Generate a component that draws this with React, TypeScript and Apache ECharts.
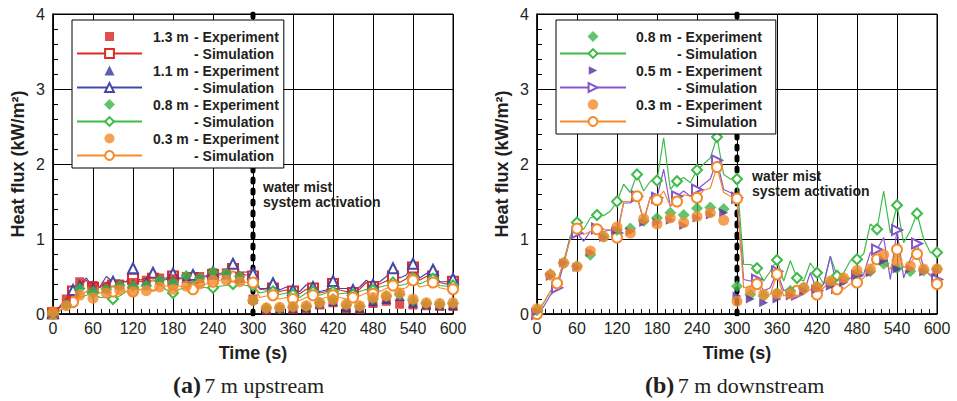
import React, { useEffect, useRef } from "react";
import * as echarts from "echarts";

// time stamps (s)
const SIM_T = [0,10,20,30,40,50,60,70,80,90,100,110,120,130,140,150,160,170,180,190,200,210,220,230,240,250,260,270,280,290,300,310,320,330,340,350,360,370,380,390,400,410,420,430,440,450,460,470,480,490,500,510,520,530,540,550,560,570,580,590,600];
const EXP_T = [0,20,40,60,80,100,120,140,160,180,200,220,240,260,280,300,320,340,360,380,400,420,440,460,480,500,520,540,560,580,600];
const ACTIVATION_T = 300;

// (a) 7 m upstream — simulations (kW/m²)
const A13_SIM = [0.01,0.1,0.2,0.3,0.38,0.45,0.35,0.35,0.42,0.38,0.42,0.43,0.47,0.43,0.45,0.47,0.47,0.46,0.5,0.47,0.47,0.48,0.49,0.5,0.52,0.52,0.54,0.6,0.54,0.52,0.5,0.33,0.32,0.34,0.3,0.32,0.3,0.27,0.33,0.34,0.28,0.3,0.4,0.32,0.3,0.28,0.33,0.42,0.36,0.4,0.44,0.5,0.42,0.47,0.62,0.45,0.5,0.5,0.42,0.4,0.43];
const A11_SIM = [0.01,0.08,0.2,0.32,0.39,0.48,0.36,0.36,0.5,0.43,0.45,0.43,0.61,0.45,0.48,0.55,0.48,0.48,0.54,0.48,0.48,0.52,0.5,0.51,0.56,0.54,0.56,0.67,0.56,0.56,0.54,0.34,0.34,0.41,0.32,0.36,0.32,0.3,0.39,0.36,0.3,0.32,0.44,0.34,0.34,0.32,0.36,0.45,0.39,0.43,0.5,0.61,0.48,0.52,0.67,0.48,0.54,0.59,0.43,0.43,0.47];
const A08_SIM = [0,0.04,0.1,0.16,0.22,0.25,0.28,0.22,0.22,0.2,0.24,0.3,0.35,0.33,0.32,0.38,0.4,0.32,0.28,0.33,0.35,0.37,0.36,0.35,0.35,0.37,0.38,0.4,0.4,0.38,0.38,0.28,0.3,0.3,0.26,0.28,0.26,0.22,0.28,0.3,0.25,0.28,0.3,0.27,0.28,0.26,0.3,0.33,0.32,0.36,0.38,0.42,0.38,0.4,0.48,0.4,0.44,0.47,0.38,0.37,0.38];
const A03_SIM = [0,0.05,0.1,0.16,0.25,0.3,0.32,0.28,0.3,0.3,0.33,0.3,0.3,0.32,0.35,0.38,0.38,0.37,0.4,0.37,0.36,0.33,0.37,0.4,0.43,0.45,0.47,0.5,0.45,0.42,0.42,0.22,0.24,0.25,0.2,0.22,0.2,0.18,0.22,0.25,0.2,0.22,0.25,0.22,0.2,0.22,0.24,0.28,0.27,0.3,0.34,0.38,0.33,0.35,0.45,0.36,0.38,0.42,0.35,0.33,0.33];
// (a) experiments
const A13_EXP = [0.03,0.2,0.43,0.38,0.37,0.4,0.42,0.45,0.48,0.47,0.5,0.5,0.55,0.55,0.5,0.2,0.05,0.06,0.06,0.07,0.12,0.15,0.07,0.06,0.14,0.17,0.13,0.12,0.11,0.1,0.1];
const A11_EXP = [0.02,0.15,0.4,0.35,0.35,0.4,0.4,0.43,0.46,0.45,0.48,0.48,0.52,0.53,0.48,0.2,0.07,0.07,0.08,0.09,0.14,0.17,0.09,0.08,0.17,0.2,0.24,0.15,0.13,0.12,0.12];
const A08_EXP = [0.01,0.12,0.34,0.3,0.33,0.38,0.37,0.38,0.45,0.42,0.51,0.48,0.56,0.54,0.5,0.18,0.08,0.08,0.09,0.1,0.15,0.2,0.12,0.1,0.2,0.24,0.26,0.18,0.14,0.13,0.14];
const A03_EXP = [0.03,0.11,0.25,0.21,0.28,0.32,0.3,0.31,0.36,0.33,0.37,0.4,0.45,0.45,0.43,0.18,0.08,0.09,0.1,0.11,0.15,0.19,0.13,0.11,0.22,0.24,0.28,0.2,0.15,0.14,0.15];

// (b) 7 m downstream — simulations
const B08_SIM = [0.04,0.15,0.3,0.4,0.7,1.04,1.22,1.13,1.28,1.32,1.31,1.37,1.5,1.73,1.62,1.86,1.64,1.77,1.78,2.35,1.66,1.77,1.82,1.75,1.92,2.0,2.08,2.36,1.86,1.8,1.8,0.66,0.66,0.61,0.44,0.57,0.72,0.44,0.71,0.48,0.44,0.68,0.55,0.4,0.77,0.51,0.55,0.71,0.73,0.8,1.2,1.13,1.64,1.08,1.45,0.95,1.11,1.34,1.0,0.82,0.82];
const B05_SIM = [0,0.1,0.25,0.35,0.66,1.02,1.08,0.97,1.1,1.14,1.1,1.12,1.08,1.48,1.48,1.57,1.24,1.56,1.55,1.93,1.43,1.57,1.64,1.57,1.66,1.73,1.8,2.05,1.66,1.62,1.55,0.46,0.44,0.46,0.31,0.35,0.57,0.31,0.35,0.26,0.28,0.55,0.31,0.4,0.77,0.35,0.44,0.48,0.51,0.53,0.82,0.86,1.02,0.46,1.12,0.48,0.73,0.94,0.62,0.51,0.46];
const B03_SIM = [0,0.15,0.3,0.41,0.7,1.0,1.14,1.06,1.1,1.13,1.13,1.12,1.02,1.5,1.5,1.57,1.26,1.55,1.52,1.64,1.44,1.5,1.59,1.57,1.55,1.65,1.68,1.96,1.62,1.57,1.54,0.35,0.37,0.4,0.24,0.26,0.53,0.24,0.28,0.31,0.26,0.33,0.26,0.35,0.44,0.33,0.33,0.4,0.42,0.48,0.64,0.73,0.68,0.6,0.86,0.62,0.68,0.8,0.57,0.53,0.4];
// (b) experiments
const B08_EXP = [0.05,0.53,0.68,0.64,0.79,1.03,1.12,1.14,1.24,1.28,1.35,1.32,1.41,1.42,1.4,0.37,0.26,0.24,0.28,0.31,0.35,0.37,0.42,0.46,0.55,0.57,0.67,0.61,0.57,0.58,0.6];
const B05_EXP = [0.03,0.5,0.68,0.62,0.82,1.02,1.12,1.1,1.22,1.22,1.25,1.18,1.28,1.32,1.35,0.24,0.2,0.15,0.2,0.24,0.31,0.33,0.37,0.42,0.52,0.55,0.71,0.6,0.6,0.56,0.56];
const B03_EXP = [0.07,0.52,0.68,0.63,0.84,1.03,1.16,1.08,1.27,1.2,1.28,1.22,1.3,1.35,1.25,0.17,0.31,0.26,0.27,0.27,0.35,0.36,0.44,0.48,0.58,0.6,0.79,0.71,0.64,0.6,0.6];

const FONT = "'Liberation Sans', Arial, Helvetica, sans-serif";
const SERIF = "'Liberation Serif', 'Times New Roman', serif";

// marker shapes (unit paths, 10 x 10)
const SHAPES: Record<string, string> = {
  rect: "M0 0L10 0L10 10L0 10Z",
  triangle: "M5 0L10 10L0 10Z",
  diamond: "M5 0L10 5L5 10L0 5Z",
  circle: "M0 5A5 5 0 1 0 10 5A5 5 0 1 0 0 5Z",
  triRight: "M0 0L10 5L0 10Z",
};
const SERIES_SYMBOL: Record<string, string> = {
  rect: "rect", triangle: "triangle", diamond: "diamond", circle: "circle", triRight: "path://M0 0L10 5L0 10Z",
};

// legend icon: shape of given size centred in a (w x h) box; the leading moves fix the bounding box
function legendIcon(shape: string, size: number, w: number, h: number) {
  const s = size / 10;
  const ox = (w - size) / 2;
  const oy = (h - size) / 2;
  const tokens = SHAPES[shape].match(/[A-Za-z]|-?\d+(\.\d+)?/g) || [];
  let out = `M0 0M${w} ${h}`;
  let cmd = "";
  let argIdx = 0;
  for (const t of tokens) {
    if (/[A-Za-z]/.test(t)) { cmd = t; argIdx = 0; out += t; continue; }
    let v = +t;
    if (cmd === "M" || cmd === "L") v = v * s + (argIdx % 2 === 0 ? ox : oy);
    else if (cmd === "A") {
      const k = argIdx % 7;
      if (k === 0 || k === 1) v = v * s;
      if (k === 5) v = v * s + ox;
      if (k === 6) v = v * s + oy;
    }
    out += (argIdx > 0 ? " " : "") + v.toFixed(2);
    argIdx++;
  }
  return "path://" + out;
}

type Probe = {
  loc: string; color: string; simColor: string;
  expShape: string; expSize: number; legendSize: number;
  simSym: string; simRotate?: number;
  exp: number[]; sim: number[];
};

const PANEL_A: Probe[] = [
  { loc: "1.3 m", color: "#d7241f", simColor: "#de2b24", expShape: "rect", expSize: 9, legendSize: 9, simSym: "emptyRect", exp: A13_EXP, sim: A13_SIM },
  { loc: "1.1 m", color: "#34369a", simColor: "#4446ab", expShape: "triangle", expSize: 10, legendSize: 10, simSym: "emptyTriangle", exp: A11_EXP, sim: A11_SIM },
  { loc: "0.8 m", color: "#3cb54a", simColor: "#3fbb47", expShape: "diamond", expSize: 12, legendSize: 11, simSym: "emptyDiamond", exp: A08_EXP, sim: A08_SIM },
  { loc: "0.3 m", color: "#f58a2c", simColor: "#f58a2c", expShape: "circle", expSize: 11, legendSize: 10, simSym: "emptyCircle", exp: A03_EXP, sim: A03_SIM },
];
const PANEL_B: Probe[] = [
  { loc: "0.8 m", color: "#3cb54a", simColor: "#3fbb47", expShape: "diamond", expSize: 12, legendSize: 11, simSym: "emptyDiamond", exp: B08_EXP, sim: B08_SIM },
  { loc: "0.5 m", color: "#5a2e9e", simColor: "#8557cc", expShape: "triRight", expSize: 9, legendSize: 8.5, simSym: "emptyTriangle", simRotate: -90, exp: B05_EXP, sim: B05_SIM },
  { loc: "0.3 m", color: "#f58a2c", simColor: "#f58a2c", expShape: "circle", expSize: 11, legendSize: 10.5, simSym: "emptyCircle", exp: B03_EXP, sim: B03_SIM },
];

const GRIDS = [
  { left: 53, top: 14, width: 400, height: 300 },
  { left: 537, top: 14, width: 400, height: 300 },
];

function buildSeries(panel: Probe[], tag: string, idx: number) {
  const out: any[] = [];
  out.push({
    name: `activation ${tag}`,
    type: "line",
    xAxisIndex: idx, yAxisIndex: idx,
    data: [[ACTIVATION_T, 0], [ACTIVATION_T, 4]],
    symbol: "none", silent: true, z: 1,
    lineStyle: { color: "#000", width: 5, type: [3, 8], cap: "round" },
  });
  panel.forEach((p) => {
    out.push({
      name: `${p.loc} - Simulation ${tag}`,
      type: "line",
      xAxisIndex: idx, yAxisIndex: idx,
      symbol: p.simSym, symbolSize: 10, symbolRotate: p.simRotate || 0,
      showAllSymbol: true, z: 3,
      color: p.simColor,
      itemStyle: { color: p.simColor, borderWidth: 1.2 },
      lineStyle: { color: p.simColor, width: 1.2 },
      data: SIM_T.map((t, i) => (i % 3 === 0 ? { value: [t, p.sim[i]] } : { value: [t, p.sim[i]], symbol: "none" })),
    });
  });
  panel.forEach((p) => {
    out.push({
      name: `${p.loc} - Experiment ${tag}`,
      type: "scatter",
      xAxisIndex: idx, yAxisIndex: idx,
      symbol: SERIES_SYMBOL[p.expShape], symbolSize: p.expSize, z: 4,
      color: p.color,
      itemStyle: { color: p.color },
      data: EXP_T.map((t, i) => [t, p.exp[i]]),
    });
  });
  return out;
}

function legendItems(panel: Probe[], tag: string, w: number, h: number) {
  const items: any[] = [];
  panel.forEach((p) => {
    items.push({ name: `${p.loc} - Experiment ${tag}`, icon: legendIcon(p.expShape, p.legendSize, w, h) });
    items.push({ name: `${p.loc} - Simulation ${tag}` });
  });
  return items;
}

const legendText = (pad: number) => ({
  fontFamily: FONT, fontSize: 14, fontWeight: "bold" as const, color: "#231f20", lineHeight: 17,
  rich: {
    a: { fontFamily: FONT, fontSize: 14, fontWeight: "bold", color: "#231f20", lineHeight: 17, width: 41, padding: [0, 0, 0, pad] },
    b: { fontFamily: FONT, fontSize: 14, fontWeight: "bold", color: "#231f20", lineHeight: 17 },
  },
});

const legendFormatter = (name: string) => {
  const clean = name.replace(/ \([ab]\)$/, "");
  const m = clean.match(/^(.*) - (Experiment|Simulation)$/);
  if (!m) return clean;
  return m[2] === "Experiment" ? `{a|${m[1]}}{b|- Experiment}` : `{a| }{b|- Simulation}`;
};

function axisPair(idx: number) {
  const x = {
    type: "value", gridIndex: idx, min: 0, max: 600, interval: 60,
    name: "Time (s)", nameLocation: "middle", nameGap: 30,
    nameTextStyle: { fontFamily: FONT, fontSize: 18, fontWeight: "bold", color: "#231f20" },
    axisLine: { lineStyle: { color: "#000", width: 1.5 } },
    axisTick: { inside: true, length: 6, lineStyle: { color: "#000" } },
    minorTick: { show: true, splitNumber: 5, length: 5, lineStyle: { color: "#000" } },
    splitLine: { show: true, lineStyle: { color: "#000", width: 1 } },
    axisLabel: { fontFamily: FONT, fontSize: 16, color: "#231f20", margin: 6 },
  };
  const y = {
    type: "value", gridIndex: idx, min: 0, max: 4, interval: 1,
    name: "Heat flux (kW/m²)", nameLocation: "middle", nameGap: 26,
    nameTextStyle: { fontFamily: FONT, fontSize: 18, fontWeight: "bold", color: "#231f20" },
    axisLine: { show: true, lineStyle: { color: "#000", width: 1.5 } },
    axisTick: { show: true, inside: true, length: 6, lineStyle: { color: "#000" } },
    minorTick: { show: true, splitNumber: 5, length: 5, lineStyle: { color: "#000" } },
    splitLine: { show: true, lineStyle: { color: "#000", width: 1 } },
    axisLabel: { fontFamily: FONT, fontSize: 16, color: "#231f20", margin: 8 },
  };
  return { x, y };
}

const caption = (left: number, tag: string, rest: string) => ({
  type: "text", left, top: 373, z: 10,
  style: {
    text: `{b|${tag}} {r|${rest}}`,
    rich: {
      b: { fontFamily: SERIF, fontSize: 24, fontWeight: "bold", fill: "#231f20" },
      r: { fontFamily: SERIF, fontSize: 22, fill: "#231f20" },
    },
  },
});

export default function App() {
  const ref = useRef<HTMLDivElement>(null);
  useEffect(() => {
    if (!ref.current) return;
    const chart = echarts.init(ref.current, undefined, { renderer: "svg" });
    const a = axisPair(0);
    const b = axisPair(1);
    const legendBase = {
      orient: "vertical", itemGap: 0, itemHeight: 11, symbolKeepAspect: true,
      backgroundColor: "#fff", borderColor: "#000", borderWidth: 1, borderRadius: 0,
      formatter: legendFormatter, selectedMode: false, top: 20,
    };
    chart.setOption({
      animation: false,
      backgroundColor: "#fff",
      grid: GRIDS.map((g) => ({ ...g, show: true, borderColor: "#000", borderWidth: 1, backgroundColor: "transparent" })),
      xAxis: [a.x, b.x],
      yAxis: [a.y, b.y],
      legend: [
        { ...legendBase, data: legendItems(PANEL_A, "(a)", 65, 11), left: 72, itemWidth: 65, padding: [8, 5, 4, 4], textStyle: legendText(6) },
        { ...legendBase, data: legendItems(PANEL_B, "(b)", 66, 11), left: 556, itemWidth: 66, padding: [8, 14, 4, 3], textStyle: legendText(5) },
      ],
      graphic: [
        { type: "text", left: 263, top: 179, z: 10, style: { text: "water mist\nsystem activation", font: `bold 14px ${FONT}`, fill: "#231f20", lineHeight: 15 } },
        { type: "text", left: 752, top: 168, z: 10, style: { text: "water mist\nsystem activation", font: `bold 14px ${FONT}`, fill: "#231f20", lineHeight: 15 } },
        caption(173, "(a)", "7 m upstream"),
        caption(645, "(b)", "7 m downstream"),
      ],
      series: [...buildSeries(PANEL_A, "(a)", 0), ...buildSeries(PANEL_B, "(b)", 1)],
    });
    return () => chart.dispose();
  }, []);
  return <div ref={ref} style={{ position: "fixed", left: 0, top: 0, width: 957, height: 401, background: "#fff" }} />;
}
